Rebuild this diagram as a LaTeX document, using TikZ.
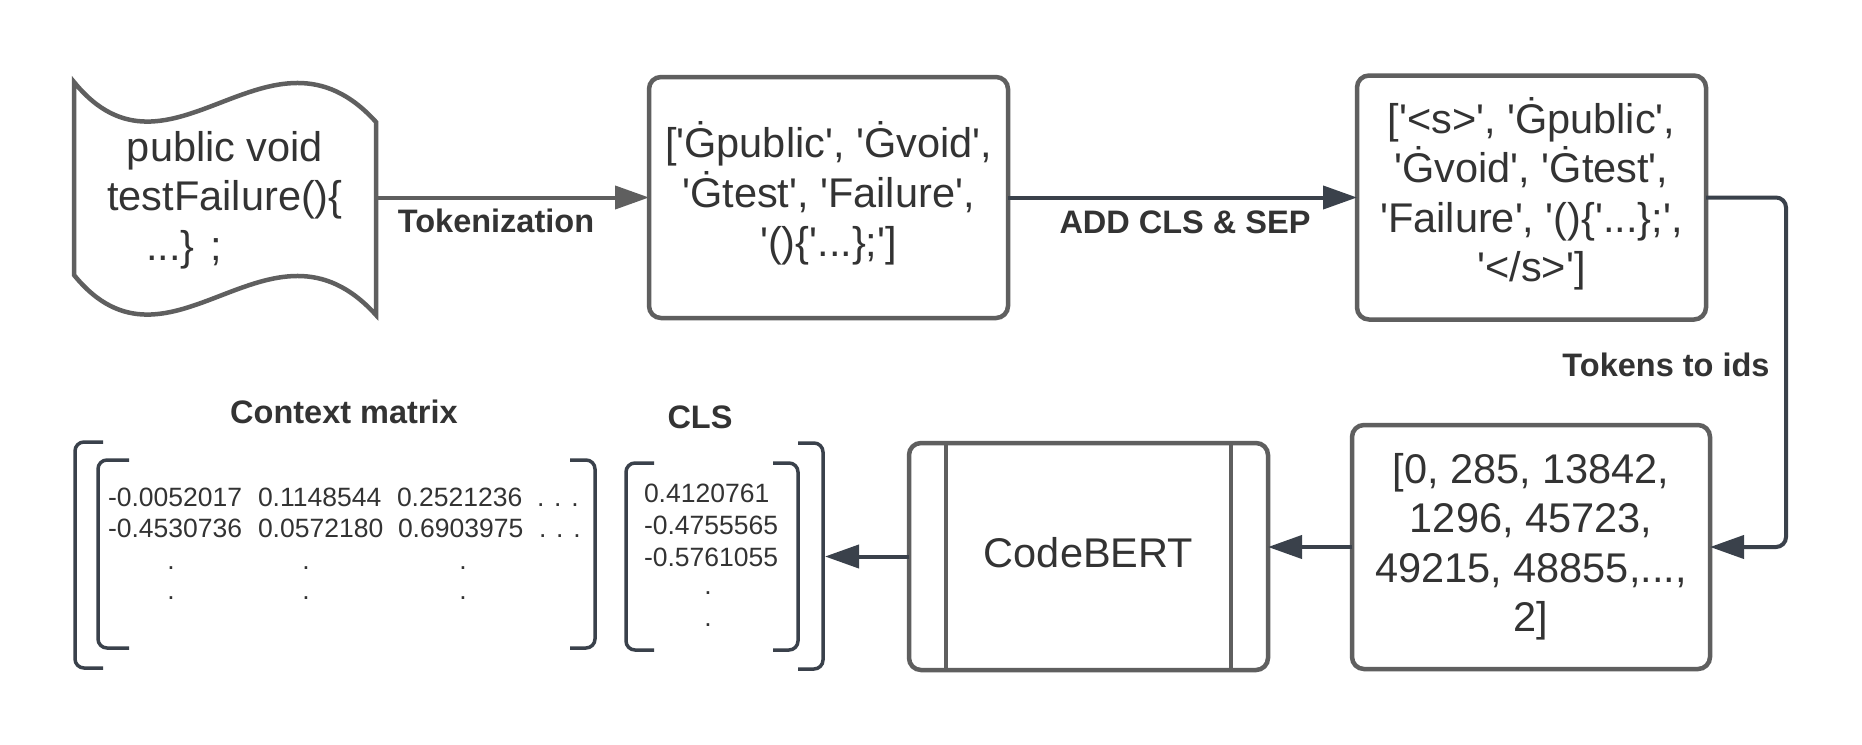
\documentclass[tikz,border=0pt]{standalone}
\usepackage{fontspec}
\newfontfamily\lib{Liberation Sans}
\usetikzlibrary{arrows.meta}
\definecolor{boxgray}{HTML}{5F5F5F}
\definecolor{arrdark}{HTML}{3A414B}
\definecolor{txt}{HTML}{333333}
\begin{document}
\begin{tikzpicture}[x=1pt,y=-1pt,
  every node/.style={font=\lib, text=txt, inner sep=0pt, outer sep=0pt},
  box/.style={draw=boxgray, line width=4.5pt, rounded corners=12pt},
  bigtext/.style={align=center, font=\lib\fontsize{41.5}{49.5}\selectfont},
  lbl/.style={font=\lib\bfseries\fontsize{32.5}{38}\selectfont},
  num/.style={font=\lib\fontsize{26.5}{30}\selectfont, anchor=base west},
  vdot/.style={font=\lib\fontsize{26.5}{30}\selectfont},
  brk/.style={draw=arrdark, line width=3.5pt, rounded corners=9pt},
  arr/.style={draw=arrdark, line width=4pt, -{Triangle[length=34pt,width=23pt]}},
  arrg/.style={arr, draw=boxgray},
]
\useasboundingbox[fill=white] (0,0) rectangle (1862,744);

% source code document shape
\draw[draw=boxgray, line width=4.5pt, fill=white] (74,82) .. controls (170,200) and (270,5) .. (376,122)
  -- (376,315) .. controls (270,198) and (170,393) .. (74,275) -- cycle;
\node[minimum width=302pt, minimum height=233pt] (doc) at (225,197.5) {};
\node[bigtext] (tdoc) at ([yshift=-2.5pt]doc.center)
  {public void\\testFailure()\{\\...\} ;\rule{82pt}{0pt}};

% token boxes
\node[box, minimum width=359pt, minimum height=241pt] (b2) at (828.5,197.5) {};
\node[bigtext] (t2) at ([yshift=4pt]b2.center)
  {['Ġpublic', 'Ġvoid',\\'Ġtest', 'Failure',\\'()\{'...\};']};
\node[box, minimum width=349pt, minimum height=244pt] (b3) at (1531.5,197.5) {};
\node[bigtext] (t3) at ([yshift=3.5pt]b3.center)
  {['<s>', 'Ġpublic',\\'Ġvoid', 'Ġtest',\\'Failure', '()\{'...\};',\\'</s>']};
\node[box, minimum width=358pt, minimum height=244pt] (b4) at (1531,547) {};
\node[bigtext] (t4) at (b4.center)
  {[0, 285, 13842,\\1296, 45723,\\49215, 48855,...,\\2]};
\node[box, minimum width=359pt, minimum height=227pt] (cb) at (1088.5,556.5) {};
\node[bigtext] (tcb) at ([yshift=3.5pt]cb.center) {CodeBERT};
\draw[draw=boxgray, line width=4.5pt] ([xshift=37pt]cb.north west) -- ([xshift=37pt]cb.south west);
\draw[draw=boxgray, line width=4.5pt] ([xshift=-37pt]cb.north east) -- ([xshift=-37pt]cb.south east);

% connectors
\coordinate (rc) at (1786,0);
\coordinate (clsR) at (825,556.5);
\draw[arrg] (doc.east) -- (b2.west);
\draw[arr] (b2.east) -- (b3.west);
\draw[arr, rounded corners=10pt] (b3.east) -- (b3.east -| rc) |- (b4.east);
\draw[arr] (b4.west) -- (b4.west -| cb.east);
\draw[arr] (cb.west) -- (clsR);

% labels
\node[lbl] (l1) at (496,221) {Tokenization};
\node[lbl] (l2) at (1185,222) {ADD CLS \& SEP};
\node[lbl] (l3) at (1666,365) {Tokens to ids};
\node[lbl] (l4) at (344,412) {Context matrix};
\node[lbl] (l5) at (700,417) {CLS};

% brackets
\draw[brk] (103,442) -- (75,442) -- (75,668) -- (103,668);
\draw[brk] (129,460) -- (98,460) -- (98,648) -- (129,648);
\draw[brk] (570,460) -- (595,460) -- (595,648) -- (570,648);
\draw[brk] (654,463) -- (626,463) -- (626,650) -- (654,650);
\draw[brk] (773,463) -- (798,463) -- (798,650) -- (773,650);
\draw[brk] (798,443) -- (823,443) -- (823,669) -- (798,669);

% context matrix entries
\node[num] (m11) at (108,506.5) {-0.0052017};
\node[num] (m12) at (258,506.5) {0.1148544};
\node[num] (m13) at (397,506.5) {0.2521236};
\node[num] (m14) at (537,506.5) {. . .};
\node[num] (m21) at (108,537.5) {-0.4530736};
\node[num] (m22) at (258,537.5) {0.0572180};
\node[num] (m23) at (398,537.5) {0.6903975};
\node[num] (m24) at (539,537.5) {. . .};
\node[vdot] (d11) at (171,568) {.};
\node[vdot] (d12) at (306,568) {.};
\node[vdot] (d13) at (463,568) {.};
\node[vdot] (d21) at (171,598) {.};
\node[vdot] (d22) at (306,598) {.};
\node[vdot] (d23) at (463,598) {.};

% CLS vector entries
\node[num] (c1) at (644,502.5) {0.4120761};
\node[num] (c2) at (644,534.5) {-0.4755565};
\node[num] (c3) at (644,566.5) {-0.5761055};
\node[vdot] (c4) at (708,593) {.};
\node[vdot] (c5) at (708,625) {.};
\end{tikzpicture}
\end{document}
